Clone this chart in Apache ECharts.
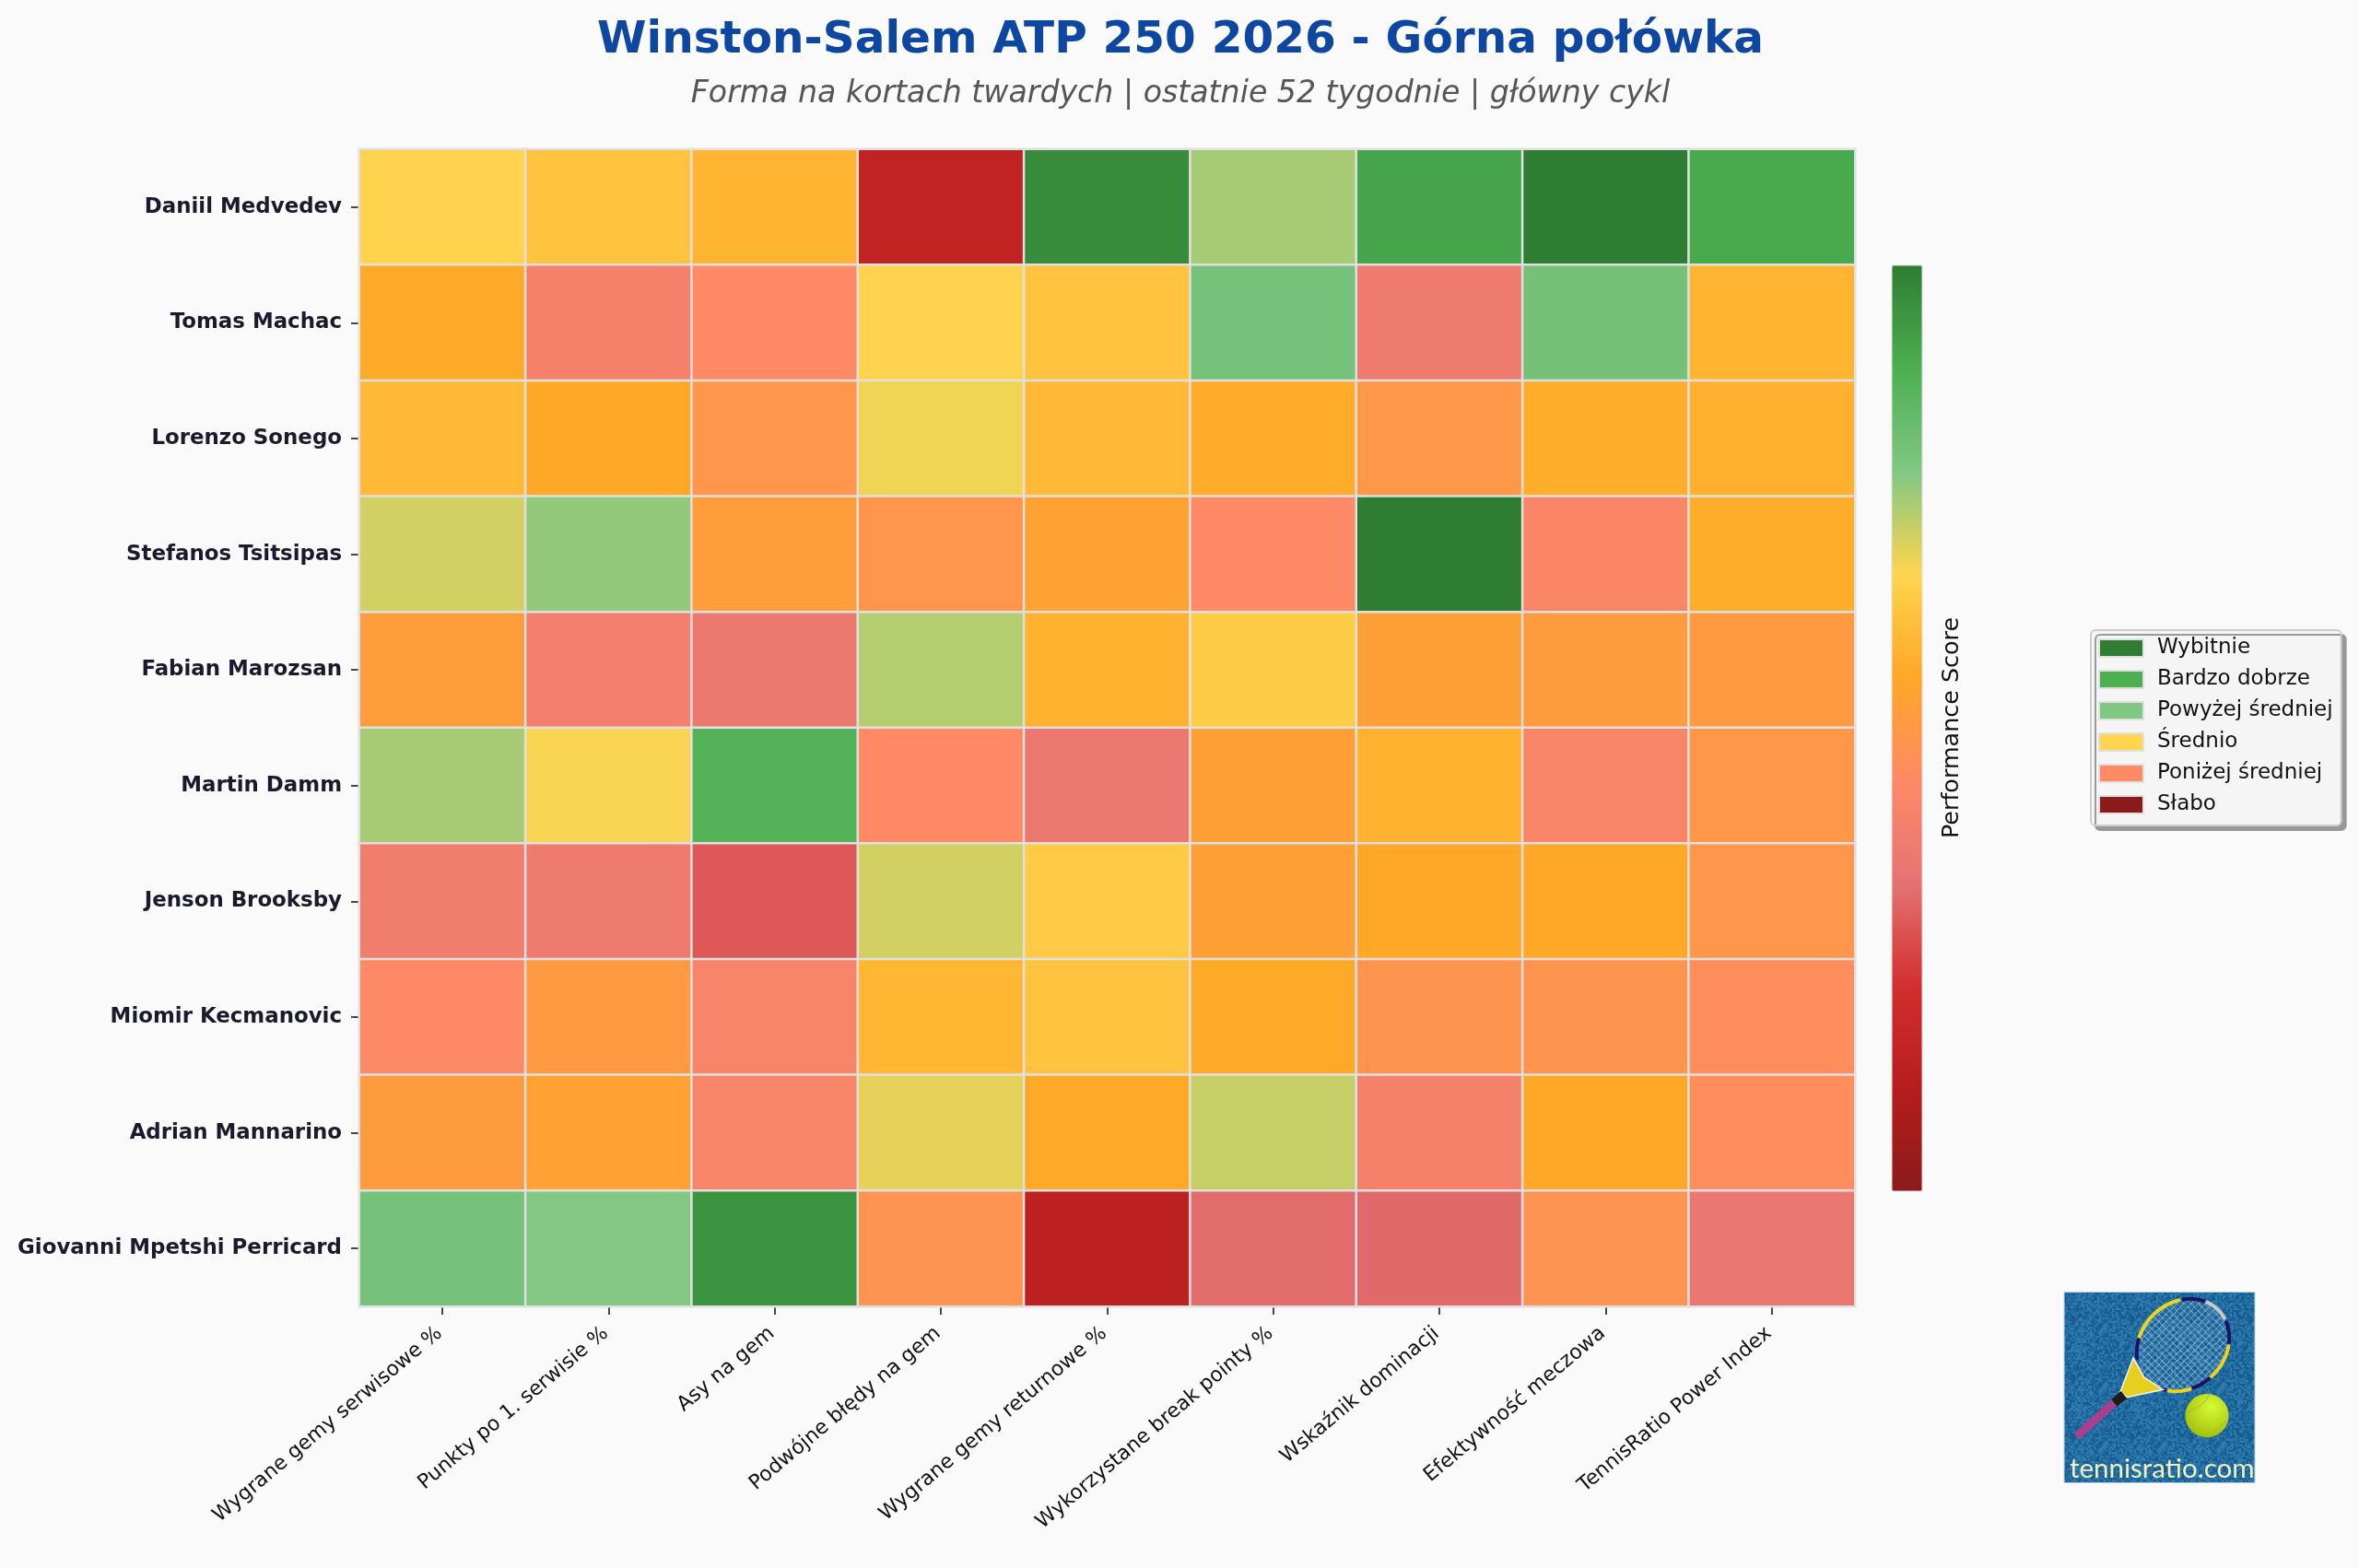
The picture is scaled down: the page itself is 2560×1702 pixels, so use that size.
<!DOCTYPE html>
<html><head><meta charset="utf-8">
<style>html,body{margin:0;padding:0;background:#fafafa}#c{width:2560px;height:1702px}</style>
<script src="https://cdn.jsdelivr.net/npm/echarts@6/dist/echarts.min.js"></script>
</head><body><div id="c"></div>
<script>
const players = ["Daniil Medvedev","Tomas Machac","Lorenzo Sonego","Stefanos Tsitsipas","Fabian Marozsan","Martin Damm","Jenson Brooksby","Miomir Kecmanovic","Adrian Mannarino","Giovanni Mpetshi Perricard"];
const metrics = ["Wygrane gemy serwisowe %","Punkty po 1. serwisie %","Asy na gem","Podwójne błędy na gem","Wygrane gemy returnowe %","Wykorzystane break pointy %","Wskaźnik dominacji","Efektywność meczowa","TennisRatio Power Index"];
const medvedev  = [66.3,62.2,58.9,15.0,96.7,74.4,91.1,100,90.0];
const machac    = [56.1,40.3,44.4,66.3,62.2,80.0,37.0,80.6,58.9];
const sonego    = [60.0,55.6,49.1,67.8,60.0,56.7,49.4,57.2,57.8];
const tsitsipas = [70.6,76.1,51.7,49.1,53.3,44.4,100,42.6,57.2];
const marozsan  = [51.7,39.2,36.2,73.3,58.3,64.4,52.8,51.1,50.6];
const damm      = [74.4,67.2,87.2,44.4,36.2,52.8,58.3,42.0,49.4];
const brooksby  = [38.3,37.4,28.9,70.6,63.9,52.8,55.6,55.6,49.1];
const kecmanovic= [43.9,50.6,41.6,59.4,62.2,56.1,48.3,48.3,46.1];
const mannarino = [51.1,53.3,42.0,68.9,56.1,71.7,40.3,55.6,45.6];
const perricard = [80.0,77.6,95.0,47.8,13.3,32.2,31.7,47.8,35.6];
const rows = [medvedev,machac,sonego,tsitsipas,marozsan,damm,brooksby,kecmanovic,mannarino,perricard];
const rampColors = ["#8b1a1a","#b71c1c","#d32f2f","#e57373","#ff8a65","#ffa726","#ffd54f","#81c784","#4caf50","#2e7d32"];
const legendNames = ["Wybitnie","Bardzo dobrze","Powyżej średniej","Średnio","Poniżej średniej","Słabo"];
const legendColors = ["#2e7d32","#4caf50","#81c784","#ffd54f","#ff8a65","#8b1a1a"];

const FONT = '"DejaVu Sans"';
const cells = [];
rows.forEach((r,y)=>r.forEach((v,x)=>cells.push([x,y,v])));

// --- logo built from shapes (crop coordinates of the small badge)
const lx = zx => 2200 + zx/3, ly = zy => 1380 + zy/3;
function noisePattern(){
  const c = document.createElement('canvas'); c.width = c.height = 64;
  const g = c.getContext('2d');
  g.fillStyle = '#1f6ca3'; g.fillRect(0,0,64,64);
  for(let i=0;i<64;i+=2)for(let j=0;j<64;j+=2){
    const h = Math.sin(i*12.9898+j*78.233)*43758.5453; const f = h-Math.floor(h);
    g.fillStyle = f>0.66 ? 'rgba(90,160,205,0.28)' : f<0.33 ? 'rgba(8,50,95,0.28)' : 'rgba(0,0,0,0)';
    g.fillRect(i,j,2,2);
  }
  return c;
}
const HC = [lx(507), ly(240)], RA = 54, RB = 46;
function headArc(a,b){
  const pts=[]; for(let d=a;d<=b;d+=3){const t=(d+45)*Math.PI/180; const ct=Math.cos(t),st=Math.sin(t);
    const px=RA*ct, py=RB*st; const c=Math.SQRT1_2;
    pts.push([HC[0]+px*c+py*c, HC[1]-px*c+py*c]);}
  return pts;
}
const frameSegs = [[-96,-65,'#1b1464'],[-65,-27,'#c9c9c9'],[-27,4,'#1b1464'],[4,50,'#e9d41e'],[50,75,'#1b1464'],[75,107,'#e9d41e'],[107,115,'#1b1464'],[166,193,'#1b1464'],[193,264,'#e9d41e']];
const strings = [];
for(let k=-RA+4;k<RA-2;k+=5.5){const h=RB*Math.sqrt(1-k*k/(RA*RA));strings.push({type:'line',shape:{x1:k,y1:-h,x2:k,y2:h},style:{stroke:'rgba(225,232,240,0.42)',lineWidth:1}});}
for(let k=-RB+4;k<RB-2;k+=5.5){const h=RA*Math.sqrt(1-k*k/(RB*RB));strings.push({type:'line',shape:{x1:-h,y1:k,x2:h,y2:k},style:{stroke:'rgba(225,232,240,0.42)',lineWidth:1}});}
const logo = [
  {type:'rect',shape:{x:2240,y:1402.5,width:207,height:207},style:{fill:{type:'pattern',image:noisePattern(),repeat:'repeat'},stroke:'#b9d3e6',lineWidth:1}},
  {type:'group',x:HC[0],y:HC[1],rotation:Math.PI/4,children:strings},
  {type:'polygon',shape:{points:[[lx(345),ly(282)],[lx(303),ly(392)],[lx(325),ly(410)],[lx(442),ly(385)],[lx(380),ly(345)],[lx(355),ly(300)]]},style:{fill:'#e6d01f',stroke:'#f0f0f0',lineWidth:1.6}},
  {type:'line',shape:{x1:lx(290),y1:ly(420),x2:lx(170),y2:ly(530)},style:{stroke:'#a9408f',lineWidth:9,lineCap:'round'}},
  {type:'line',shape:{x1:lx(315),y1:ly(402),x2:lx(283),y2:ly(428)},style:{stroke:'#1c1c1c',lineWidth:10}},
  {type:'circle',shape:{cx:lx(585),cy:ly(470),r:23.6},style:{fill:{type:'radial',x:0.6,y:0.3,r:0.8,colorStops:[{offset:0,color:'#d6fb35'},{offset:1,color:'#9cba05'}]}}},
  {type:'bezierCurve',shape:{x1:lx(517),y1:ly(460),cpx1:lx(550),cpy1:ly(450),cpx2:lx(580),cpy2:ly(430),x2:lx(592),y2:ly(402)},style:{stroke:'#b9a94f',lineWidth:1,fill:null}},
  {type:'bezierCurve',shape:{x1:lx(600),y1:ly(538),cpx1:lx(612),cpy1:ly(515),cpx2:lx(635),cpy2:ly(497),x2:lx(655),y2:ly(483)},style:{stroke:'#b9a94f',lineWidth:1,fill:null}},
  {type:'text',x:2246,y:1594,style:{text:'tennisratio.com',font:'29.5px Lato',fill:'#f3efbb',textAlign:'left',textVerticalAlign:'middle'}}
];
frameSegs.forEach(s=>logo.splice(2,0,{type:'polyline',shape:{points:headArc(s[0],s[1])},style:{stroke:s[2],lineWidth:4,fill:null}}));

const option = {
  animation:false,
  backgroundColor:'#fafafa',
  title:[
    {text:'Winston-Salem ATP 250 2026 - Górna połówka',left:1276,top:15,textAlign:'center',textStyle:{fontFamily:FONT,fontWeight:'bold',fontSize:48.5,color:'#0d47a1'}},
    {text:'Forma na kortach twardych | ostatnie 52 tygodnie | główny cykl',left:1276,top:81,textAlign:'center',textStyle:{fontFamily:FONT,fontStyle:'italic',fontWeight:'normal',fontSize:33.2,color:'#555555'}}
  ],
  grid:{left:390,top:162,width:1623,height:1256,containLabel:false},
  xAxis:{type:'category',data:metrics,position:'bottom',axisLine:{show:false},splitLine:{show:false},
    axisTick:{show:true,alignWithLabel:true,length:9,lineStyle:{color:'#333',width:1.8}},
    axisLabel:{interval:0,rotate:40,margin:24,padding:[0,4,0,0],fontFamily:FONT,fontSize:22,color:'#111'}},
  yAxis:{type:'category',data:players,inverse:true,axisLine:{show:false},splitLine:{show:false},
    axisTick:{show:true,alignWithLabel:true,length:9,lineStyle:{color:'#333',width:1.8}},
    axisLabel:{interval:0,margin:19,fontFamily:FONT,fontWeight:'bold',fontSize:22.9,color:'#1a1a2e'}},
  visualMap:{type:'continuous',min:0,max:100,seriesIndex:0,orient:'vertical',left:2053,top:288,padding:0,itemWidth:33,itemHeight:1005,
    calculable:false,realtime:false,hoverLink:false,text:[],inRange:{color:rampColors},textStyle:{fontSize:1}},
  legend:{orient:'vertical',left:2269,top:684,padding:[8,9,11,8],itemWidth:48,itemHeight:19,itemGap:11,icon:'rect',selectedMode:false,
    data:legendNames,backgroundColor:'#f5f5f5',borderColor:'#cccccc',borderWidth:2,borderRadius:5,
    shadowColor:'#999999',shadowOffsetX:5,shadowOffsetY:5,shadowBlur:0,
    textStyle:{fontFamily:FONT,fontSize:23,lineHeight:19,color:'#111',padding:[0,0,0,10]}},
  series:[
    {type:'heatmap',name:'Score',data:cells,itemStyle:{borderColor:'#e0e0e0',borderWidth:2.5},emphasis:{disabled:true},label:{show:false}},
    ...legendNames.map((n,i)=>({type:'bar',name:n,data:[],itemStyle:{color:legendColors[i],borderColor:'#e0e0e0',borderWidth:1}}))
  ],
  graphic:{elements:[
    {type:'rect',shape:{x:2053,y:288,width:33,height:1005},style:{fill:null,stroke:'#e0e0e0',lineWidth:1},z:10},
    {type:'text',x:2118,y:790,rotation:Math.PI/2,style:{text:'Performance Score',font:'25.4px "DejaVu Sans"',fill:'#111',textAlign:'center',textVerticalAlign:'middle'},z:10},
    ...logo
  ]}
};
const chart = echarts.init(document.getElementById('c'),null,{width:2560,height:1702,renderer:'canvas'});
chart.setOption(option);
</script></body></html>
